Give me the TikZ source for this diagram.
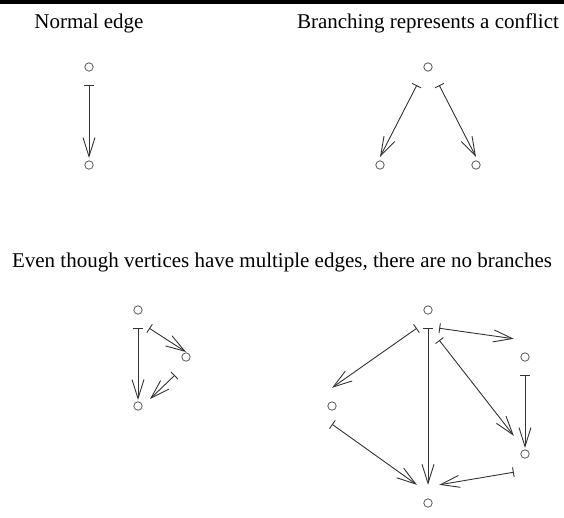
\documentclass[tikz,border=0pt]{standalone}
\usepackage{fontspec}
\setmainfont{Liberation Serif}
\usetikzlibrary{arrows.meta}

\begin{document}
\begin{tikzpicture}[
    x=1pt, y=-1pt,
    % Node styles
    vertex/.style={rectangle, minimum width=22pt, minimum height=36pt, inner sep=0pt},
    ring/.style={draw=gray!70!black, line width=0.8pt},
    caption/.style={anchor=base, inner sep=0pt, font=\fontsize{21}{25}\selectfont},
    % Edges: bar at the tail, long open barb at the head
    link/.style={line width=0.9pt, draw=black!80,
        {Bar[width=10pt]}-{Straight Barb[length=19pt, width=12pt]}}
]
    \useasboundingbox (0,0) rectangle (564,517);

    % =========================================================================
    % 0. TOP RULE AND CAPTIONS
    % =========================================================================
    \fill[black] (0,0) rectangle (564,3.5);
    \node[caption] (capa) at (89,28) {Normal edge};
    \node[caption] (capb) at (428,28) {Branching represents a conflict};
    \node[caption] (capc) at (282,267) {Even though vertices have multiple edges, there are no branches};

    % =========================================================================
    % 1. VERTICES
    % =========================================================================
    % normal edge
    \node[vertex] (ne1) at (89,67) {};
    \node[vertex] (ne2) at (89,165) {};
    % conflict
    \node[vertex] (c0) at (428,67) {};
    \node[vertex] (c1) at (380,165) {};
    \node[vertex] (c2) at (476,165) {};
    % small group
    \node[vertex] (m0) at (138,310) {};
    \node[vertex] (m1) at (186,357) {};
    \node[vertex] (m2) at (138,406) {};
    % big group
    \node[vertex] (g0) at (428,310) {};
    \node[vertex] (gl) at (332,406) {};
    \node[vertex] (ga) at (525,357) {};
    \node[vertex] (gb) at (525,454) {};
    \node[vertex] (gz) at (428,503) {};

    \foreach \v in {ne1,ne2,c0,c1,c2,m0,m1,m2,g0,gl,ga,gb,gz}
        \draw[ring] (\v.center) circle (4.2pt);

    % =========================================================================
    % 2. EDGES
    % =========================================================================
    \draw[link] (ne1.south) -- ([yshift=7pt]ne2.center);

    \draw[link] (c0.south west) -- ([yshift=8pt]c1.center);
    \draw[link] (c0.south east) -- ([yshift=8pt]c2.center);

    \draw[link] (m0.south) -- ([yshift=6pt]m2.center);
    \draw[link] (m0.south east) -- ([yshift=5pt]m1.center);
    \draw[link] (m1.south west) -- ([xshift=12pt, yshift=7pt]m2.center);

    \draw[link] (g0.south west) -- (gl.north);
    \draw[link] (g0.south) -- (gz.north);
    \draw[link] (g0.south east) -- (ga.north west);
    \draw[link] ([yshift=-12pt]g0.south east) -- (gb.north west);
    \draw[link] (ga.south) -- ([yshift=6pt]gb.center);
    \draw[link] (gl.south) -- (gz.north west);
    \draw[link] (gb.south west) -- (gz.north east);

\end{tikzpicture}
\end{document}
